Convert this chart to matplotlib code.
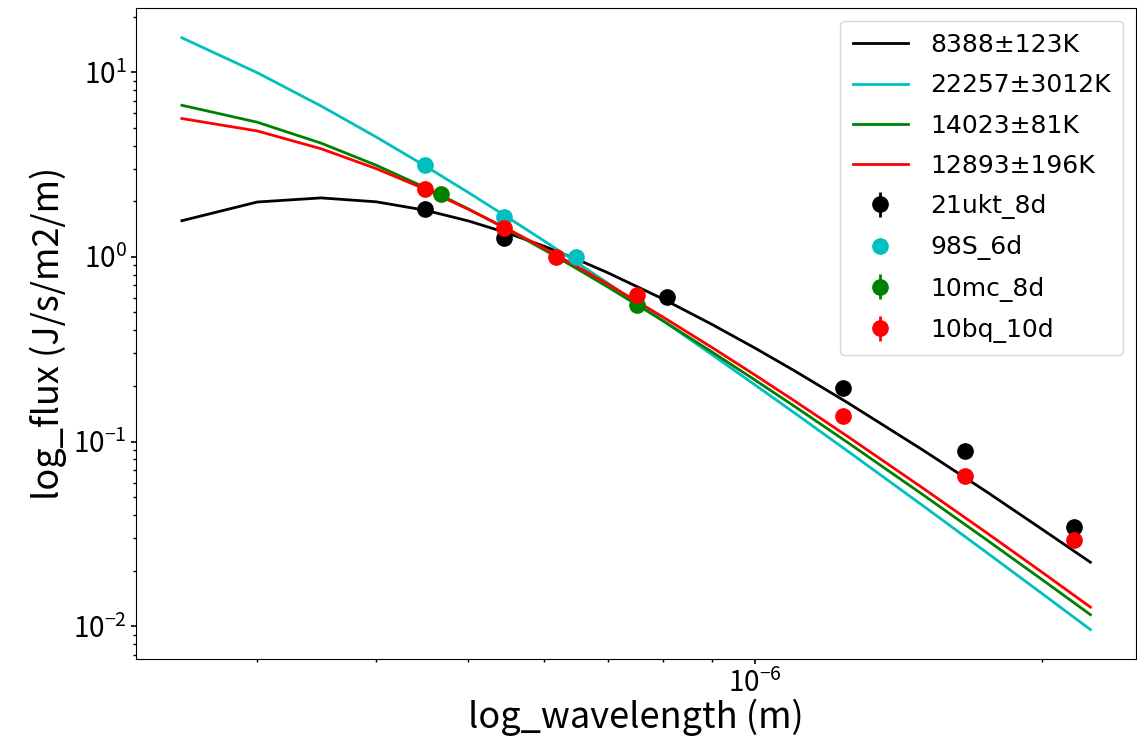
import matplotlib
matplotlib.use('Agg')
import matplotlib.pyplot as plt

plt.rcParams['font.family'] = ['Noto Sans CJK JP', 'DejaVu Sans']
plt.rcParams['mathtext.fontset'] = 'custom'
plt.rcParams['mathtext.rm'] = 'Noto Sans CJK JP'
plt.rcParams['mathtext.it'] = 'Noto Sans CJK JP'
plt.rcParams['mathtext.bf'] = 'Noto Sans CJK JP'

# model curves (normalised flux)
wave = [2.5e-7, 3.0e-7, 3.5e-7, 4.0e-7, 4.5e-7, 5.0e-7, 5.5e-7, 6.0e-7,
        6.5e-7, 7.0e-7, 8.0e-7, 9.0e-7, 1.0e-6, 1.1e-6, 1.25e-6, 1.5e-6,
        1.75e-6, 2.0e-6, 2.25e-6]
fit_8388 = [1.569, 1.981, 2.085, 1.986, 1.790, 1.564, 1.343, 1.143,
            0.969, 0.821, 0.592, 0.432, 0.3205, 0.2415, 0.1626, 0.0900,
            0.0535, 0.0336, 0.0222]
fit_22257 = [15.35, 9.93, 6.56, 4.455, 3.110, 2.228, 1.633, 1.222,
             0.931, 0.721, 0.4515, 0.2965, 0.2025, 0.1428, 0.0890, 0.0450,
             0.0251, 0.01507, 0.00959]
fit_14023 = [6.617, 5.357, 4.128, 3.133, 2.377, 1.816, 1.401, 1.093,
             0.862, 0.688, 0.451, 0.3066, 0.2151, 0.1551, 0.0991, 0.0516,
             0.0294, 0.01794, 0.01155]
fit_12893 = [5.609, 4.804, 3.849, 3.004, 2.328, 1.808, 1.414, 1.114,
             0.887, 0.713, 0.4727, 0.3242, 0.2290, 0.1660, 0.1068, 0.0560,
             0.0321, 0.01966, 0.01269]
fit_labels = ['8388±123K', '22257±3012K', '14023±81K', '12893±196K']

# photometry
ukt_wave = [4.50e-7, 5.45e-7, 8.09e-7, 1.238e-6, 1.663e-6, 2.163e-6]
ukt_flux = [1.81, 1.27, 0.609, 0.194, 0.0889, 0.0344]
ukt_err = [0.02, 0.02, 0.01, 0.004, 0.002, 0.001]

s98_wave = [4.50e-7, 5.45e-7, 6.48e-7]
s98_flux = [3.14, 1.65, 1.0]

mc_wave = [4.68e-7, 7.51e-7]
mc_flux = [2.18, 0.549]
mc_err = [0.02, 0.01]

bq_wave = [4.50e-7, 5.45e-7, 6.18e-7, 7.52e-7, 1.238e-6, 1.663e-6, 2.163e-6]
bq_flux = [2.33, 1.43, 1.0, 0.622, 0.1375, 0.065, 0.0292]
bq_err = [0.02, 0.02, 0.01, 0.01, 0.003, 0.002, 0.001]

fig = plt.figure(figsize=(11.37, 7.44), dpi=100)
ax = fig.add_axes([0.12, 0.114, 0.879, 0.875])

lw = 2.0
h1, = ax.plot(wave, fit_8388, color='k', lw=lw, label=fit_labels[0])
h2, = ax.plot(wave, fit_22257, color='c', lw=lw, label=fit_labels[1])
h3, = ax.plot(wave, fit_14023, color='g', lw=lw, label=fit_labels[2])
h4, = ax.plot(wave, fit_12893, color='r', lw=lw, label=fit_labels[3])

ms = 11
h5 = ax.errorbar(ukt_wave, ukt_flux, yerr=ukt_err, fmt='o', color='k',
                 ms=ms, elinewidth=2, label='21ukt_8d')
h6, = ax.plot(s98_wave, s98_flux, 'o', color='c', ms=ms, label='98S_6d')
h7 = ax.errorbar(mc_wave, mc_flux, yerr=mc_err, fmt='o', color='g',
                 ms=ms, elinewidth=2, label='10mc_8d')
h8 = ax.errorbar(bq_wave, bq_flux, yerr=bq_err, fmt='o', color='r',
                 ms=ms, elinewidth=2, label='10bq_10d')

ax.set_xscale('log')
ax.set_yscale('log')
ax.set_xlabel('log_wavelength (m)', fontsize=26, labelpad=0)
ax.set_ylabel('log_flux (J/s/m2/m)', fontsize=26)
ax.tick_params(which='major', labelsize=20, width=1.2)
ax.tick_params(which='minor', width=1.0)

handles = [h1, h2, h3, h4, h5, h6, h7, h8]
ax.legend(handles, [h.get_label() for h in handles], loc='upper right',
          prop={'family': 'DejaVu Sans', 'size': 18}, handlelength=2.2,
          labelspacing=0.65, borderpad=0.5, handletextpad=0.9)

fig.savefig('out.png', dpi=100)
